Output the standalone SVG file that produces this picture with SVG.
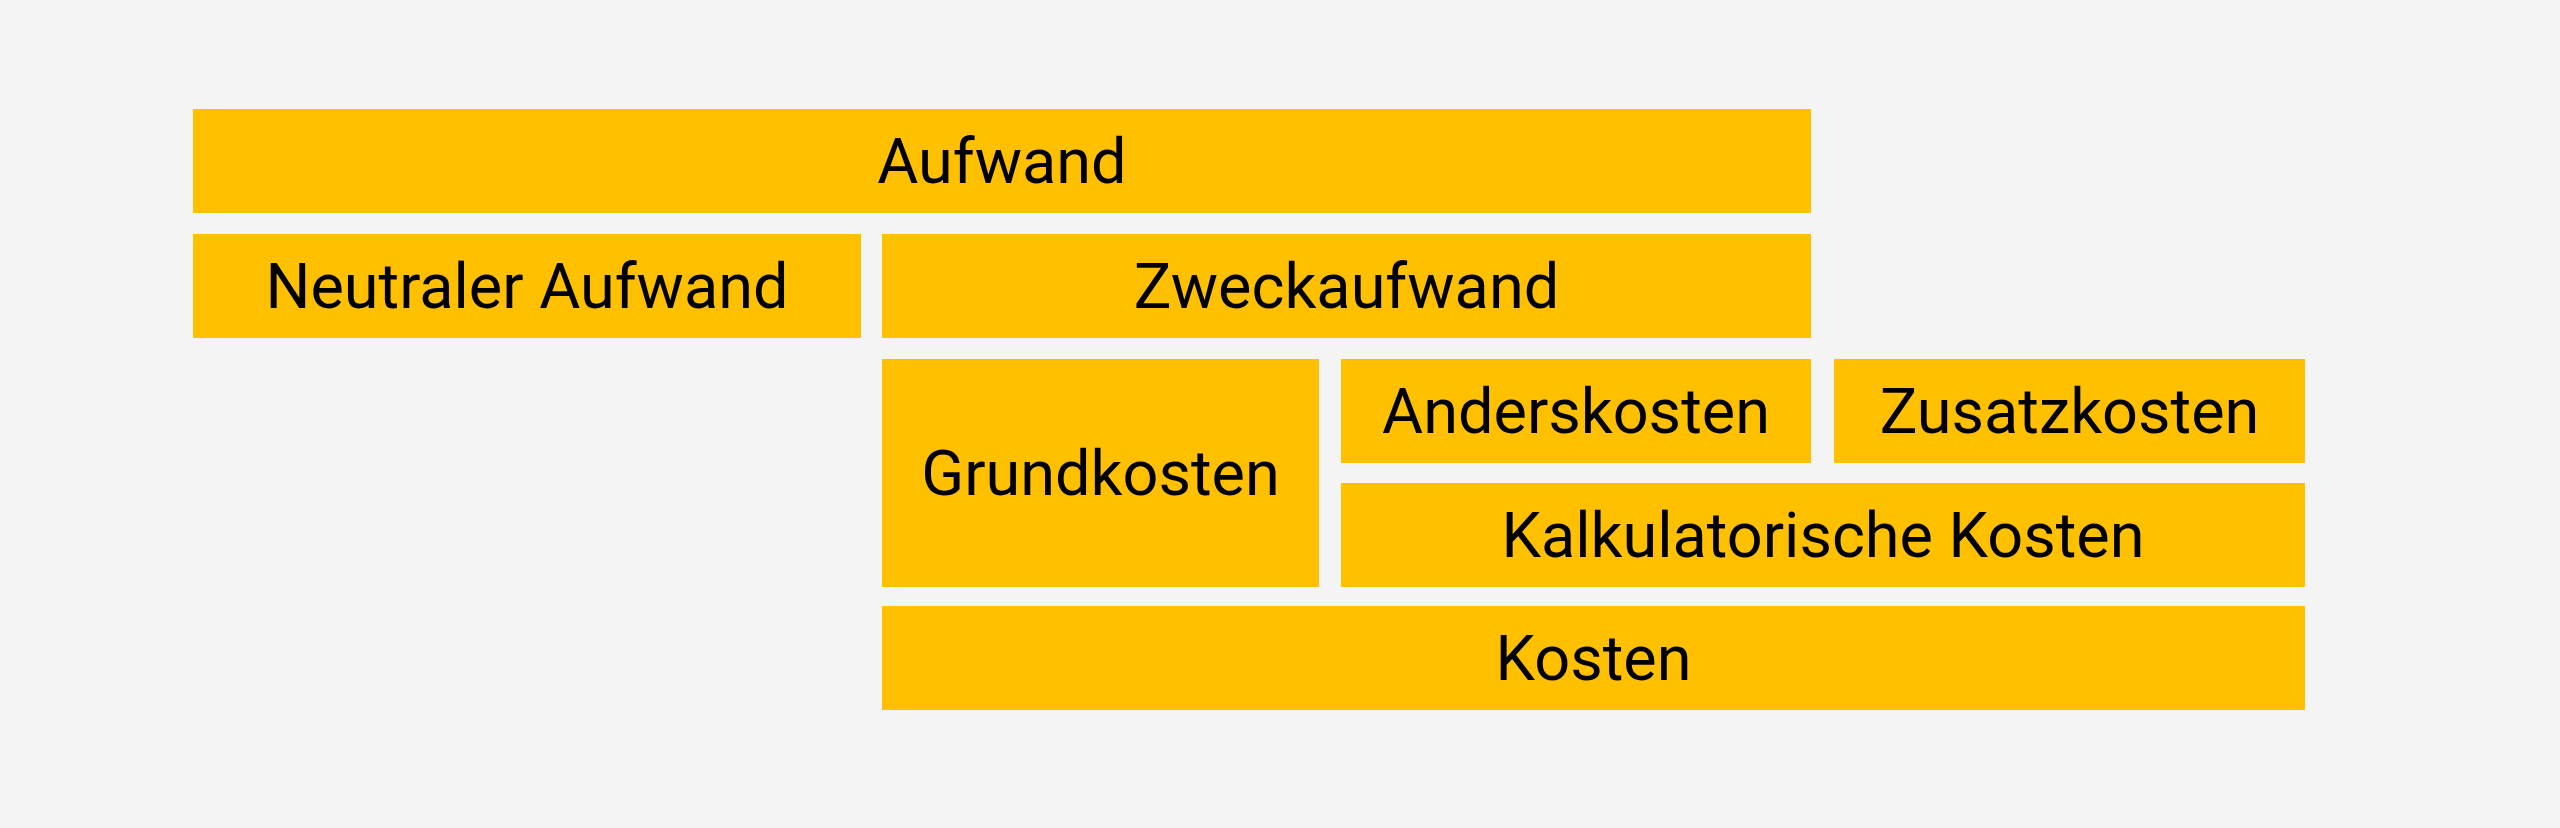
<svg xmlns="http://www.w3.org/2000/svg" width="2560" height="828" viewBox="0 0 2560 828">
<style>
.box{fill:#FFC000}
.lbl{font-family:Roboto,"Liberation Sans",sans-serif;font-size:63px;fill:#000;text-anchor:middle}
</style>
<rect x="0" y="0" width="2560" height="828" fill="#F4F4F4"/>
<g id="aufwand"><rect class="box" x="193" y="109" width="1618" height="104"/><text class="lbl" x="1002" y="183">Aufwand</text></g>
<g id="neutraler-aufwand"><rect class="box" x="193" y="234" width="668" height="104"/><text class="lbl" x="527" y="308">Neutraler Aufwand</text></g>
<g id="zweckaufwand"><rect class="box" x="882" y="234" width="929" height="104"/><text class="lbl" x="1346.5" y="308">Zweckaufwand</text></g>
<g id="grundkosten"><rect class="box" x="882" y="359" width="437" height="228"/><text class="lbl" x="1100.5" y="495">Grundkosten</text></g>
<g id="anderskosten"><rect class="box" x="1341" y="359" width="470" height="104"/><text class="lbl" x="1576" y="433">Anderskosten</text></g>
<g id="zusatzkosten"><rect class="box" x="1834" y="359" width="471" height="104"/><text class="lbl" x="2069.5" y="433">Zusatzkosten</text></g>
<g id="kalkulatorische-kosten"><rect class="box" x="1341" y="483" width="964" height="104"/><text class="lbl" x="1823" y="557">Kalkulatorische Kosten</text></g>
<g id="kosten"><rect class="box" x="882" y="606" width="1423" height="104"/><text class="lbl" x="1593.5" y="680">Kosten</text></g>
<g id="connectors"/>
</svg>
